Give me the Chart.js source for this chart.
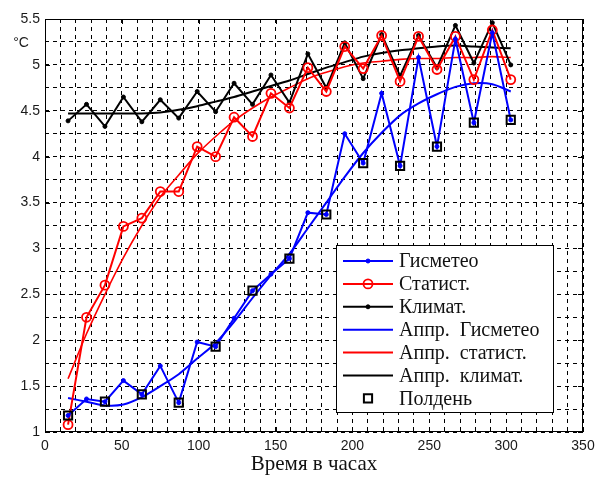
<!DOCTYPE html>
<html>
<head>
<meta charset="utf-8">
<script src="https://cdn.jsdelivr.net/npm/chart.js@4.4.1/dist/chart.umd.min.js"></script>
<style>
  body { margin: 0; background: #fff; }
  canvas { display: block; }
</style>
</head>
<body>
<canvas id="myChart" width="606" height="479"></canvas>
<script>
// hours of each forecast, temperatures
const hours = [15, 27, 39, 51, 63, 75, 87, 99, 111, 123, 135, 147, 159, 171, 183, 195, 207, 219, 231, 243, 255, 267, 279, 291, 303];
const gismeteo = [1.18, 1.36, 1.33, 1.56, 1.41, 1.72, 1.32, 1.98, 1.93, 2.24, 2.54, 2.72, 2.89, 3.39, 3.37, 4.25, 3.93, 4.69, 3.90, 5.08, 4.11, 5.28, 4.37, 5.35, 4.40];
const statist = [1.08, 2.25, 2.60, 3.24, 3.33, 3.62, 3.62, 4.11, 4.00, 4.43, 4.22, 4.69, 4.53, 4.97, 4.71, 5.20, 4.96, 5.32, 4.82, 5.31, 4.95, 5.31, 4.84, 5.38, 4.84];
const klimat = [4.39, 4.57, 4.33, 4.65, 4.38, 4.62, 4.42, 4.71, 4.49, 4.80, 4.57, 4.89, 4.59, 5.12, 4.75, 5.24, 4.85, 5.33, 4.88, 5.32, 4.97, 5.43, 5.02, 5.46, 5.00];
const apprGismeteo = [1.37, 1.33, 1.29, 1.30, 1.38, 1.50, 1.63, 1.80, 1.97, 2.20, 2.46, 2.71, 2.94, 3.22, 3.50, 3.78, 4.04, 4.26, 4.45, 4.58, 4.68, 4.76, 4.80, 4.79, 4.71];
const apprStatist = [1.58, 2.07, 2.50, 2.90, 3.25, 3.56, 3.80, 4.03, 4.22, 4.39, 4.53, 4.65, 4.75, 4.85, 4.92, 4.98, 5.02, 5.04, 5.06, 5.07, 5.07, 5.08, 5.08, 5.09, 5.08];
const apprKlimat = [4.47, 4.47, 4.47, 4.47, 4.47, 4.48, 4.51, 4.55, 4.60, 4.65, 4.71, 4.77, 4.83, 4.90, 4.97, 5.03, 5.09, 5.13, 5.16, 5.18, 5.20, 5.21, 5.20, 5.19, 5.18];
const noonHours = [15, 39, 63, 87, 111, 135, 159, 183, 207, 231, 255, 279, 303];
const noonTemps = [1.18, 1.33, 1.41, 1.32, 1.93, 2.54, 2.89, 3.37, 3.93, 3.90, 4.11, 4.37, 4.40];

const xTicks = [0, 50, 100, 150, 200, 250, 300, 350];
const yTicks = [1, 1.5, 2, 2.5, 3, 3.5, 4, 4.5, 5, 5.5];

const pts = (xs, ys) => xs.map((h, i) => ({x: h, y: ys[i]}));

// frame, inner ticks, °C and the boxed legend like in matlab
const matlabLook = {
  id: 'matlabLook',
  afterDraw(chart) {
    const {ctx, chartArea: a, scales} = chart;
    const sx = scales.x, sy = scales.y;
    ctx.save();
    ctx.strokeStyle = '#000';
    ctx.lineWidth = 1;
    ctx.setLineDash([]);
    ctx.strokeRect(a.left + 0.5, a.top + 0.5, a.width - 1, a.height - 1);
    ctx.beginPath();
    xTicks.forEach(v => {
      const p = Math.round(sx.getPixelForValue(v)) + 0.5;
      ctx.moveTo(p, a.bottom); ctx.lineTo(p, a.bottom - 5);
      ctx.moveTo(p, a.top); ctx.lineTo(p, a.top + 5);
    });
    yTicks.forEach(v => {
      const p = Math.round(sy.getPixelForValue(v)) + 0.5;
      ctx.moveTo(a.left, p); ctx.lineTo(a.left + 5, p);
      ctx.moveTo(a.right, p); ctx.lineTo(a.right - 5, p);
    });
    ctx.stroke();

    ctx.fillStyle = '#1a1a1a';
    ctx.font = '14px "Liberation Sans"';
    ctx.textAlign = 'center';
    ctx.textBaseline = 'middle';
    ctx.fillText('°C', a.left - 24, sy.getPixelForValue(5.25) + 1);

    // legend box
    const bw = 217, bh = 167;
    const bx = a.right - 30 - bw, by = a.bottom - 20 - bh;
    ctx.fillStyle = '#fff';
    ctx.fillRect(bx, by, bw, bh);
    ctx.strokeRect(bx + 0.5, by + 0.5, bw, bh);
    ctx.font = '20px "Liberation Serif"';
    ctx.textAlign = 'left';
    chart.data.datasets.forEach((ds, i) => {
      const ry = by + 16 + i * 22.9;
      if (ds.showLine !== false) {
        ctx.strokeStyle = ds.borderColor;
        ctx.lineWidth = 2;
        ctx.beginPath();
        ctx.moveTo(bx + 7, ry); ctx.lineTo(bx + 57, ry);
        ctx.stroke();
      }
      if (ds.pointRadius > 0) {
        ctx.fillStyle = ds.pointBackgroundColor;
        ctx.strokeStyle = ds.borderColor;
        ctx.lineWidth = ds.pointBorderWidth || 1;
        ctx.beginPath();
        if (ds.pointStyle === 'rect') {
          const s = Math.SQRT1_2 * ds.pointRadius;
          ctx.rect(bx + 32 - s, ry - s, 2 * s, 2 * s);
        } else {
          ctx.arc(bx + 32, ry, ds.pointRadius, 0, Math.PI * 2);
        }
        ctx.fill();
        ctx.stroke();
      }
      ctx.fillStyle = '#111';
      ctx.fillText(ds.label, bx + 63, ry + 1);
    });
    ctx.restore();
  }
};

const ctx = document.getElementById('myChart').getContext('2d');
const chart = new Chart(ctx, {
  type: 'scatter',
  data: {
    datasets: [
      { label: 'Гисметео', data: pts(hours, gismeteo), showLine: true, borderColor: '#0000ff', borderWidth: 2,
        pointStyle: 'circle', pointRadius: 2, pointBackgroundColor: '#0000ff', pointBorderWidth: 1 },
      { label: 'Статист.', data: pts(hours, statist), showLine: true, borderColor: '#ff0000', borderWidth: 2,
        pointStyle: 'circle', pointRadius: 4.5, pointBackgroundColor: 'rgba(0,0,0,0)', pointBorderWidth: 1.8 },
      { label: 'Климат.', data: pts(hours, klimat), showLine: true, borderColor: '#000000', borderWidth: 2,
        pointStyle: 'circle', pointRadius: 2, pointBackgroundColor: '#000000', pointBorderWidth: 1 },
      { label: 'Аппр.  Гисметео', data: pts(hours, apprGismeteo), showLine: true, borderColor: '#0000ff', borderWidth: 2,
        pointRadius: 0, tension: 0.3 },
      { label: 'Аппр.  статист.', data: pts(hours, apprStatist), showLine: true, borderColor: '#ff0000', borderWidth: 1.6,
        pointRadius: 0, tension: 0.3 },
      { label: 'Аппр.  климат.', data: pts(hours, apprKlimat), showLine: true, borderColor: '#000000', borderWidth: 2,
        pointRadius: 0, tension: 0.3 },
      { label: 'Полдень', data: pts(noonHours, noonTemps), showLine: false, borderColor: '#000000',
        pointStyle: 'rect', pointRadius: 5.8, pointBackgroundColor: 'rgba(0,0,0,0)', pointBorderWidth: 2, order: -1 }
    ]
  },
  options: {
    responsive: false,
    animation: false,
    layout: { padding: { top: 19, right: 23, left: 0, bottom: 0 } },
    plugins: { legend: { display: false }, tooltip: { enabled: false } },
    scales: {
      x: {
        type: 'linear', min: 0, max: 350,
        afterFit: s => { s.height = 47; },
        ticks: { stepSize: 10, autoSkip: false, maxRotation: 0, padding: 6, color: '#1a1a1a',
          font: { family: 'Liberation Sans', size: 14 },
          callback: v => xTicks.includes(v) ? String(v) : '' },
        grid: { color: '#000', lineWidth: 1, drawTicks: false },
        border: { display: false, dash: [4, 4] },
        title: { display: true, text: 'Время в часах', color: '#111', padding: { top: 0, bottom: 2 },
          font: { family: 'Liberation Serif', size: 21 } }
      },
      y: {
        min: 1, max: 5.5,
        afterFit: s => { s.width = 45; },
        ticks: { stepSize: 0.25, autoSkip: false, padding: 5, color: '#1a1a1a',
          font: { family: 'Liberation Sans', size: 14 },
          callback: v => yTicks.includes(v) ? String(v) : '' },
        grid: { color: '#000', lineWidth: 1, drawTicks: false },
        border: { display: false, dash: [4, 4] }
      }
    }
  },
  plugins: [matlabLook]
});
</script>
</body>
</html>
